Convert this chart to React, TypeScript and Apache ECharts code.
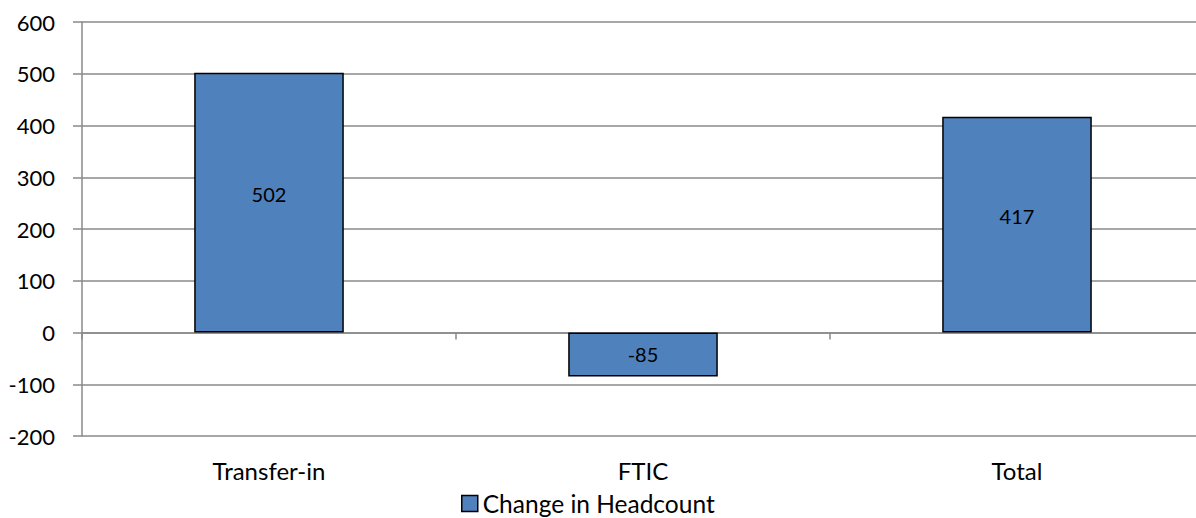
import React, { useEffect, useRef } from "react";
import * as echarts from "echarts";

const categories = ["Transfer-in", "FTIC", "Total"];
const seriesName = "Change in Headcount";
const values = [502, -85, 417];
const yMin = -200;
const yMax = 600;
const yInterval = 100;

export default function App() {
  const ref = useRef<HTMLDivElement>(null);
  useEffect(() => {
    document.body.style.margin = "0";
    const chart = echarts.init(ref.current!, null, { renderer: "svg" });
    const font = "Lato, 'Noto Sans', sans-serif";
    chart.setOption({
      animation: false,
      backgroundColor: "#ffffff",
      grid: {
        left: 82,
        top: 22,
        width: 1122,
        height: 414,
        containLabel: false,
        outerBoundsMode: "none",
      },
      legend: {
        data: [seriesName],
        left: 461,
        top: 491,
        padding: 0,
        itemWidth: 16,
        itemHeight: 16,
        itemGap: 6,
        icon: "rect",
        textStyle: {
          fontFamily: font,
          fontSize: 24.5,
          lineHeight: 24,
          color: "#000",
          padding: [0, 0, 0, 0],
        },
        itemStyle: { borderColor: "#000", borderWidth: 1.5 },
      },
      xAxis: {
        type: "category",
        data: categories,
        axisLine: { onZero: true, lineStyle: { color: "#8a8a8a", width: 1.5 } },
        axisTick: { show: true, length: 7, alignWithLabel: false, lineStyle: { color: "#8a8a8a", width: 1.5 } },
        axisLabel: {
          fontFamily: font,
          fontSize: 24,
          color: "#000",
          margin: 22,
        },
        position: "bottom",
      },
      yAxis: {
        type: "value",
        min: yMin,
        max: yMax,
        interval: yInterval,
        axisLine: { show: true, lineStyle: { color: "#8a8a8a", width: 1.5 } },
        axisTick: { show: true, length: 9, lineStyle: { color: "#8a8a8a", width: 1.5 } },
        splitLine: { show: true, lineStyle: { color: "#8a8a8a", width: 1.5 } },
        axisLabel: { fontFamily: font, fontSize: 22, color: "#000", margin: 27 },
      },
      series: [
        {
          name: seriesName,
          type: "bar",
          data: values.map((v) => ({
            value: v,
            label: { offset: [0, v > 0 ? -9 : 0] },
          })),
          barWidth: "40%",
          itemStyle: { color: "#4F81BD", borderColor: "#000", borderWidth: 1.5 },
          label: {
            show: true,
            position: "inside",
            fontFamily: font,
            fontSize: 20,
            color: "#000",
          },
        },
      ],
    });
    return () => chart.dispose();
  }, []);
  return (
    <div
      ref={ref}
      style={{ position: "fixed", left: 0, top: 0, width: 1196, height: 518 }}
    />
  );
}
